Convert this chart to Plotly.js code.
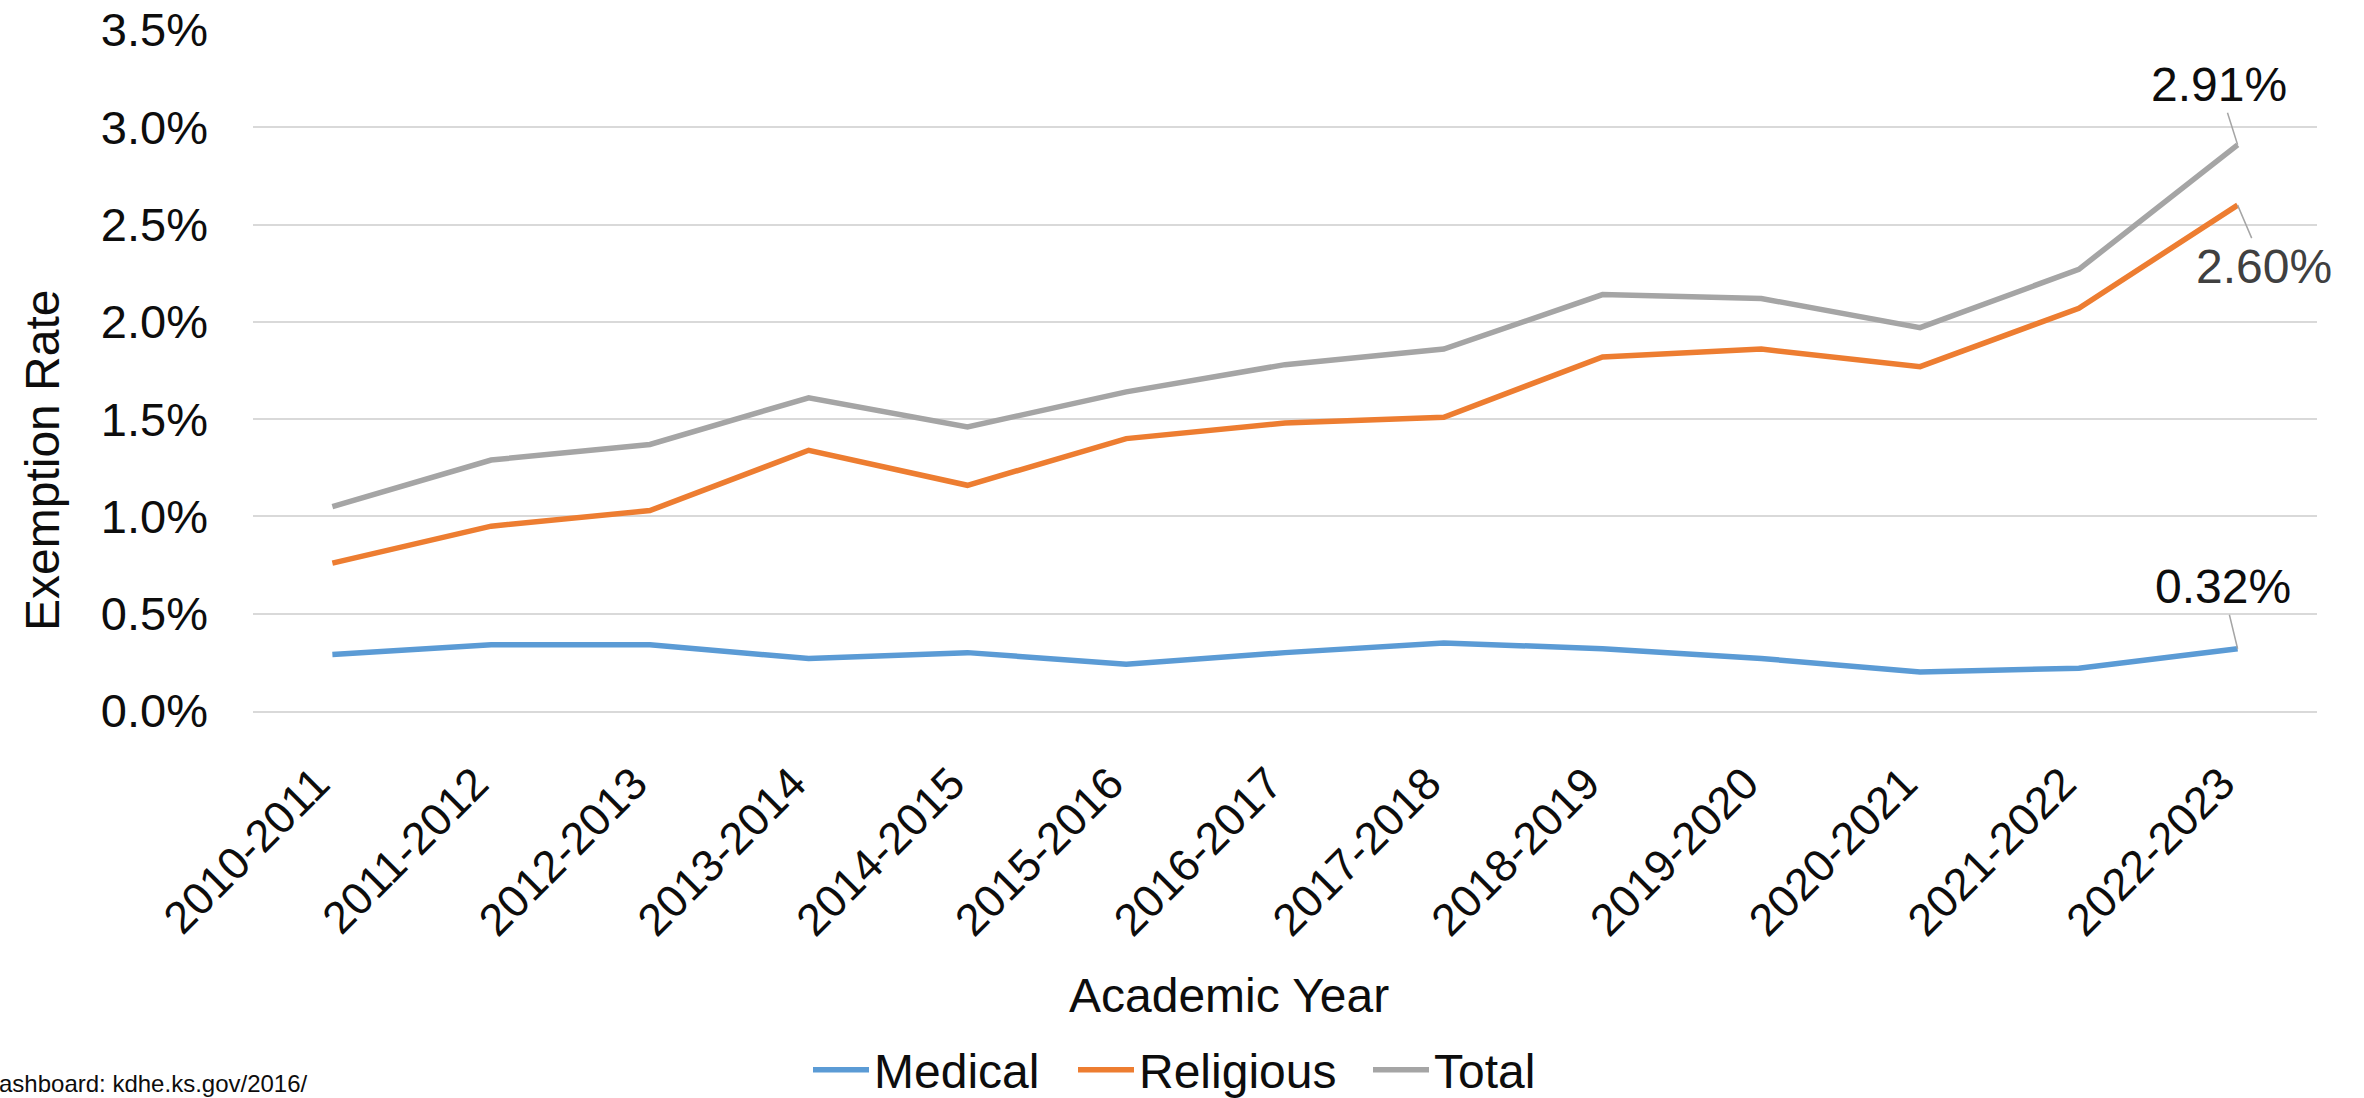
<!DOCTYPE html>
<html>
<head>
<meta charset="utf-8">
<script src="https://cdn.plot.ly/plotly-3.0.1.min.js"></script>
<style>
html,body{margin:0;padding:0;background:#ffffff;}
#chart{width:2364px;height:1098px;}
</style>
</head>
<body>
<div id="chart"></div>
<script>
const years = ["2010-2011","2011-2012","2012-2013","2013-2014","2014-2015","2015-2016","2016-2017","2017-2018","2018-2019","2019-2020","2020-2021","2021-2022","2022-2023"];
const medical   = [0.29,0.34,0.34,0.27,0.30,0.24,0.30,0.35,0.32,0.27,0.20,0.22,0.32];
const religious = [0.76,0.95,1.03,1.34,1.16,1.40,1.48,1.51,1.82,1.86,1.77,2.07,2.60];
const total     = [1.05,1.29,1.37,1.61,1.46,1.64,1.78,1.86,2.14,2.12,1.97,2.27,2.91];
const yTicks = [0,0.5,1.0,1.5,2.0,2.5,3.0,3.5];
const seriesNames = ["Medical","Religious","Total"];
const colors = ["#5B9BD5","#ED7D31","#A5A5A5"];

const W = 2364, H = 1098;
const M = {l:253, r:47, t:30, b:387, autoexpand: false};
const PW = W - M.l - M.r, PH = H - M.t - M.b;
const px = x => (x - M.l) / PW;
const py = y => (H - M.b - y) / PH;

const FONT = "Liberation Sans, Arial, sans-serif";
const TXT = "#0d0d0d";
const series = [medical, religious, total];
const legendIds = ["legend","legend2","legend3"];
const legendX = [808, 1073, 1368];

const traces = series.map((vals, i) => ({
  type: "scatter",
  mode: "lines",
  x: years,
  y: vals,
  name: seriesNames[i],
  legend: legendIds[i],
  line: {color: colors[i], width: 5.5},
  hoverinfo: "skip"
}));

const last = years.length - 1;
const labelCfg = [
  {s: total, ax: -19, ay: -60, color: TXT},
  {s: religious, ax: 26, ay: 61, color: "#404040"},
  {s: medical, ax: -15, ay: -62, color: TXT}
];
const annotations = labelCfg.map(c => ({
  x: years[last], y: c.s[last], xref: "x", yref: "y",
  text: c.s[last].toFixed(2) + "%",
  showarrow: true, arrowhead: 0, arrowwidth: 1.5, arrowcolor: "#A5A5A5",
  ax: c.ax, ay: c.ay, standoff: 0,
  font: {family: FONT, size: 48, color: c.color}
}));

annotations.push({
  xref: "paper", yref: "paper", x: px(1229), y: py(995),
  xanchor: "center", yanchor: "middle", showarrow: false,
  text: "Academic Year", font: {family: FONT, size: 48, color: TXT}
});
annotations.push({
  xref: "paper", yref: "paper", x: px(42), y: py(460),
  xanchor: "center", yanchor: "middle", showarrow: false, textangle: -90,
  text: "Exemption Rate", font: {family: FONT, size: 48, color: TXT}
});
annotations.push({
  xref: "paper", yref: "paper", x: px(-3), y: py(1083),
  xanchor: "left", yanchor: "middle", showarrow: false,
  text: "ashboard: kdhe.ks.gov/2016/", font: {family: FONT, size: 24, color: TXT}
});

const layout = {
  width: W, height: H,
  margin: M,
  paper_bgcolor: "#ffffff", plot_bgcolor: "#ffffff",
  showlegend: true,
  xaxis: {
    type: "category", range: [-0.5, 12.5],
    tickangle: -45, ticks: "", showgrid: false, zeroline: false,
    showline: true, linecolor: "#d9d9d9", linewidth: 2,
    tickfont: {family: FONT, size: 45, color: TXT},
    ticklabelstandoff: 26, ticklabelshift: -16
  },
  yaxis: {
    range: [0, 3.5], tickvals: yTicks, ticktext: yTicks.map(v => v.toFixed(1) + "%"),
    showgrid: true, gridcolor: "#d9d9d9", gridwidth: 2, zeroline: false,
    showline: false, ticks: "",
    tickfont: {family: FONT, size: 47, color: TXT},
    ticklabelstandoff: 44
  },
  annotations: annotations
};
legendIds.forEach((id, i) => {
  layout[id] = {
    orientation: "h", x: px(legendX[i]), xanchor: "left", y: py(1070), yanchor: "middle",
    font: {family: FONT, size: 48, color: TXT}, bgcolor: "rgba(0,0,0,0)", borderwidth: 0,
    itemwidth: 56
  };
});

Plotly.newPlot("chart", traces, layout, {displayModeBar: false, staticPlot: true});
</script>
</body>
</html>
